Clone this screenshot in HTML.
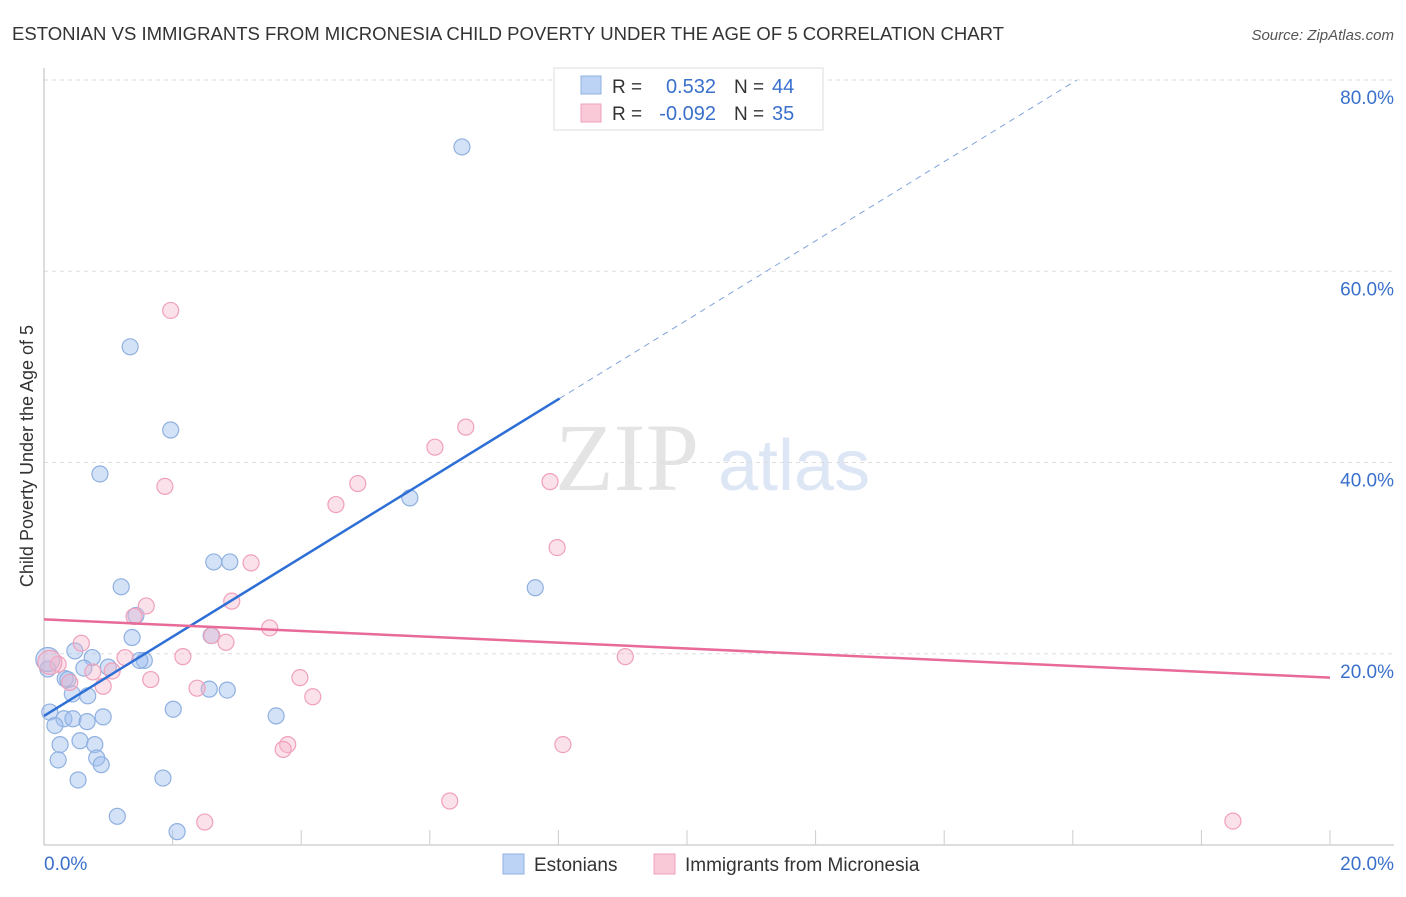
<!DOCTYPE html>
<html><head><meta charset="utf-8"><style>
body{margin:0;background:#fff;font-family:"Liberation Sans",sans-serif;}
</style></head><body>
<svg id="chart" width="1406" height="892" xmlns="http://www.w3.org/2000/svg" font-family="Liberation Sans, sans-serif">
<text x="12" y="40" font-size="18" fill="#333" textLength="992" lengthAdjust="spacingAndGlyphs">ESTONIAN VS IMMIGRANTS FROM MICRONESIA CHILD POVERTY UNDER THE AGE OF 5 CORRELATION CHART</text>
<text x="1394" y="40" font-size="15" fill="#555" text-anchor="end" font-style="italic">Source: ZipAtlas.com</text>
<text x="555" y="490" font-size="96" fill="#e4e4e4" font-family="Liberation Serif, serif">ZIP</text>
<text x="718" y="490" font-size="72" fill="#dde6f4">atlas</text>
<text transform="translate(33,456) rotate(-90)" font-size="18" fill="#333" text-anchor="middle">Child Poverty Under the Age of 5</text>
<g id="grid"></g><g id="axes"></g><g id="marks"></g>
<g>
<rect x="554" y="68" width="269" height="62" fill="#fff" stroke="#ddd"/>
<rect x="581" y="76" width="20" height="18" fill="#bcd3f5" stroke="#8fb0e0"/>
<rect x="581" y="104" width="20" height="18" fill="#f9c9d8" stroke="#f0a0bb"/>
<text x="612" y="93" font-size="19" fill="#333">R =</text>
<text x="716" y="93" font-size="20" fill="#3a70cc" text-anchor="end">0.532</text>
<text x="734" y="93" font-size="19" fill="#333">N =</text>
<text x="772" y="93" font-size="20" fill="#3a70cc">44</text>
<text x="612" y="120" font-size="19" fill="#333">R =</text>
<text x="716" y="120" font-size="20" fill="#3a70cc" text-anchor="end">-0.092</text>
<text x="734" y="120" font-size="19" fill="#333">N =</text>
<text x="772" y="120" font-size="20" fill="#3a70cc">35</text>
</g>
<g>
<rect x="503" y="854" width="21" height="20" fill="#bcd3f5" stroke="#8fb0e0"/>
<text x="534" y="871" font-size="19" fill="#333">Estonians</text>
<rect x="654" y="854" width="21" height="20" fill="#f9c9d8" stroke="#f0a0bb"/>
<text x="685" y="871" font-size="19" fill="#333">Immigrants from Micronesia</text>
</g>
</svg>
<script>
const yTicks=[20,40,60,80];
const yTickLabels=["20.0%","40.0%","60.0%","80.0%"];
const xLabels=["0.0%","20.0%"];
const blueX=[6.5,1.34,1.97,0.87,5.69,2.64,2.89,1.20,7.64,1.43,1.37,2.60,1.56,1.49,0.75,0.48,1.00,0.62,0.06,0.33,0.37,0.68,0.44,2.57,2.85,2.01,3.61,0.92,0.09,0.31,0.45,0.67,0.17,0.56,0.79,0.25,0.82,0.22,0.89,0.53,1.85,1.14,2.07,0.06];
const blueY=[73.0,52.1,43.4,38.8,36.3,29.6,29.6,27.0,26.9,24.0,21.7,21.9,19.3,19.3,19.6,20.3,18.6,18.5,18.4,17.4,17.3,15.6,15.8,16.3,16.2,14.2,13.5,13.4,13.9,13.2,13.2,12.9,12.5,10.9,10.5,10.5,9.1,8.9,8.4,6.8,7.0,3.0,1.4,19.4];
const pinkX=[1.97,6.56,6.08,1.88,4.88,4.54,7.87,7.98,3.22,1.59,2.92,1.40,3.51,2.61,2.83,0.58,2.16,1.26,9.04,1.06,0.76,0.22,0.40,0.92,1.66,3.98,2.38,4.18,3.79,3.72,8.07,6.31,2.50,18.49,0.09];
const pinkY=[55.9,43.7,41.6,37.5,37.8,35.6,38.0,31.1,29.5,25.0,25.5,23.9,22.7,21.9,21.2,21.1,19.7,19.6,19.7,18.2,18.1,18.9,17.0,16.6,17.3,17.5,16.4,15.5,10.5,10.0,10.5,4.6,2.4,2.5,19.1];
const blueFit=[13.5,4.14], pinkFit=[23.6,-0.305];
const NS="http://www.w3.org/2000/svg";
const X=v=>44+v*64.3, Y=v=>845-v*9.5625;
function mk(t,a,p){const e=document.createElementNS(NS,t);for(const k in a)e.setAttribute(k,a[k]);p.appendChild(e);return e;}
const grid=document.getElementById('grid'),axes=document.getElementById('axes'),marks=document.getElementById('marks');
yTicks.forEach((t,i)=>{
 const l=mk('line',{x1:44,x2:1394,y1:Y(t),y2:Y(t),stroke:'#ddd','stroke-dasharray':'4,4'},grid);
 
 
 const tx=mk('text',{x:1394,y:Y(t)+24,'font-size':19,fill:'#3a70cc','text-anchor':'end'},axes);
 tx.textContent=yTickLabels[i];
 
 
});
let a=mk('line',{x1:44,x2:44,y1:68,y2:845,stroke:'#bbb'},axes);


a=mk('line',{x1:44,x2:1394,y1:845,y2:845,stroke:'#bbb'},axes);


for(let k=1;k<=10;k++){const t=mk('line',{x1:X(k*2),x2:X(k*2),y1:830,y2:845,stroke:'#ccc'},axes);
 
 }
[[0,44,'start'],[20,1394,'end']].forEach((d,i)=>{const t=mk('text',{x:d[1],y:870,'font-size':19,fill:'#3a70cc','text-anchor':d[2]},axes);t.textContent=xLabels[i];
 
 });
function pts(xs,ys,fill,stroke,name){xs.forEach((x,i)=>{const big=(i===xs.length-1&&x<0.1);
 const c=mk('circle',{cx:X(x),cy:Y(ys[i]),r:big?12:8,fill:fill,stroke:stroke,'stroke-width':1.2},marks);
 
 });}
pts(blueX,blueY,'rgba(160,190,240,0.45)','#8fb0e0','estonian-point');
pts(pinkX,pinkY,'rgba(245,180,200,0.4)','#f0a0bb','micronesia-point');
const bx1=8.02, bx2=(80-blueFit[0])/blueFit[1];
let ln=mk('line',{x1:X(0),y1:Y(blueFit[0]),x2:X(bx1),y2:Y(blueFit[0]+blueFit[1]*bx1),stroke:'#2e6fd6','stroke-width':2.5},marks);


ln=mk('line',{x1:X(bx1),y1:Y(blueFit[0]+blueFit[1]*bx1),x2:X(bx2),y2:Y(80),stroke:'#7fa3dc','stroke-width':1,'stroke-dasharray':'6,5'},marks);


ln=mk('line',{x1:X(0),y1:Y(pinkFit[0]),x2:X(20),y2:Y(pinkFit[0]+pinkFit[1]*20),stroke:'#e86a98','stroke-width':2.5},marks);


</script>
</body></html>
